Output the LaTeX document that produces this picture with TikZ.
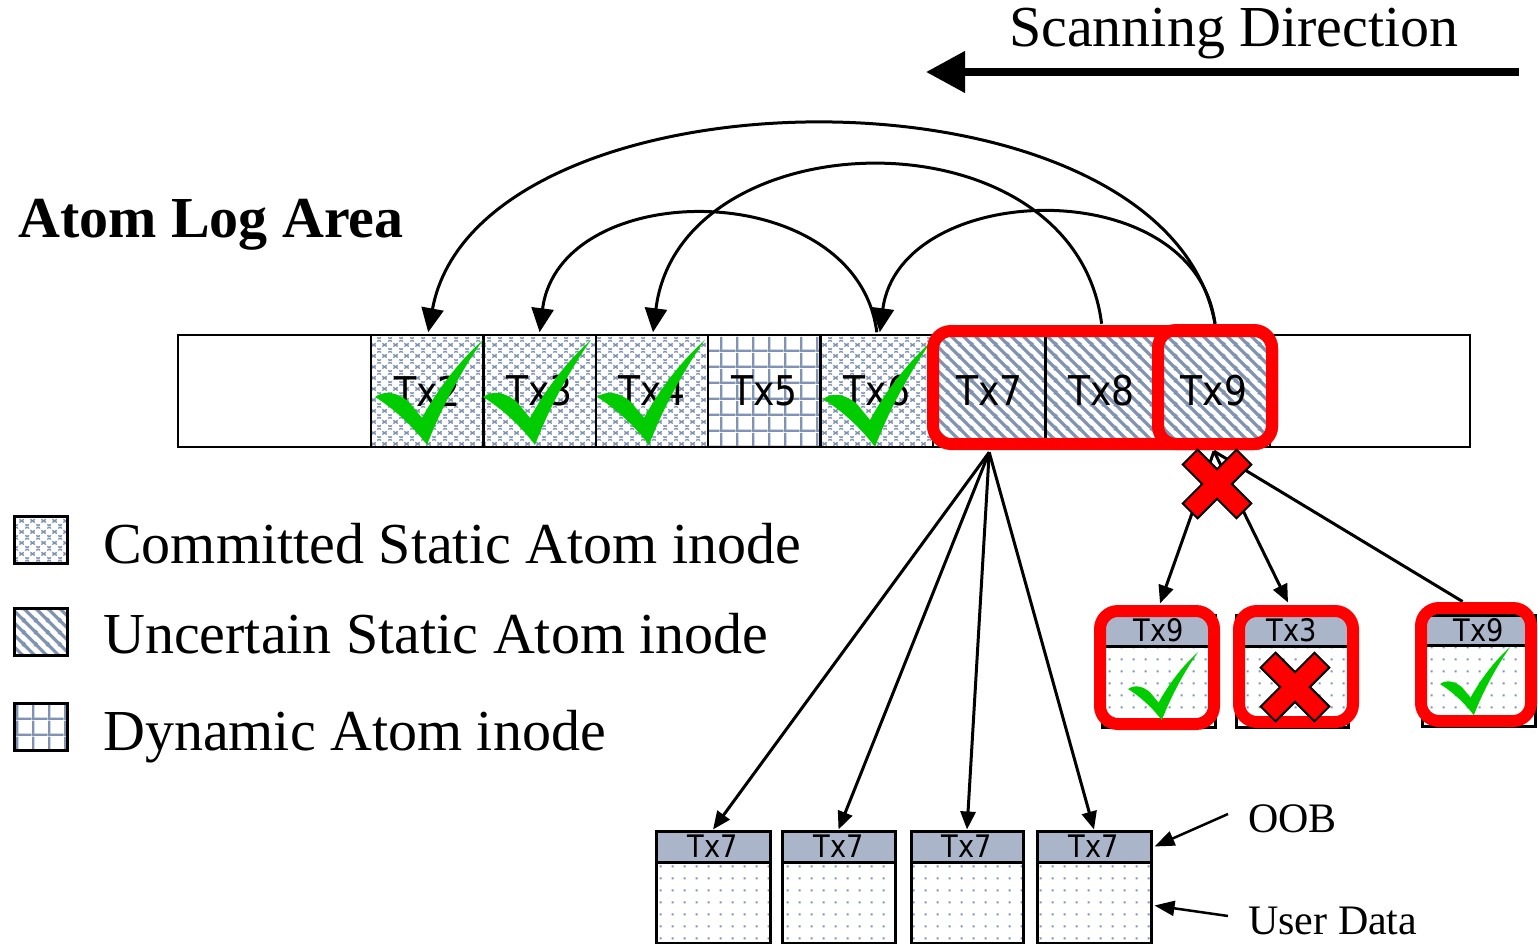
\documentclass[tikz,border=0pt]{standalone}
\usepackage{fontspec}
\setmainfont{Liberation Serif}
\newfontfamily\cellfont[FakeStretch=0.88]{DejaVu Sans}
\usetikzlibrary{arrows.meta,patterns.meta}

\definecolor{patblue}{RGB}{128,147,176}
\definecolor{hdrgray}{RGB}{171,181,201}
\definecolor{okgreen}{RGB}{0,204,0}
\definecolor{badred}{RGB}{255,0,0}

% committed static inode: white dots on a blue-grey lattice
\pgfdeclarepattern{
  name=committedfill, type=colored,
  bottom left={\pgfpoint{0pt}{0pt}}, top right={\pgfpoint{11pt}{11pt}},
  tile size={\pgfpoint{11pt}{11pt}},
  code={
    \pgfsetfillcolor{patblue}
    \pgfpathrectangle{\pgfpointorigin}{\pgfpoint{11pt}{11pt}}
    \pgfusepath{fill}
    \pgfsetfillcolor{white}
    \pgfpathcircle{\pgfpoint{0pt}{0pt}}{3.9pt}
    \pgfpathcircle{\pgfpoint{11pt}{0pt}}{3.9pt}
    \pgfpathcircle{\pgfpoint{0pt}{11pt}}{3.9pt}
    \pgfpathcircle{\pgfpoint{11pt}{11pt}}{3.9pt}
    \pgfpathcircle{\pgfpoint{5.5pt}{5.5pt}}{3.9pt}
    \pgfusepath{fill}
  }
}
% uncertain static inode: diagonal stripes
\pgfdeclarepattern{
  name=uncertainfill, type=colored,
  bottom left={\pgfpoint{0pt}{0pt}}, top right={\pgfpoint{12pt}{12pt}},
  tile size={\pgfpoint{12pt}{12pt}},
  code={
    \pgfsetfillcolor{white}
    \pgfpathrectangle{\pgfpointorigin}{\pgfpoint{12pt}{12pt}}
    \pgfusepath{fill}
    \pgfsetstrokecolor{patblue}
    \pgfsetlinewidth{3.4pt}
    \pgfpathmoveto{\pgfpoint{-1pt}{13pt}}\pgfpathlineto{\pgfpoint{13pt}{-1pt}}
    \pgfpathmoveto{\pgfpoint{-1pt}{1pt}}\pgfpathlineto{\pgfpoint{1pt}{-1pt}}
    \pgfpathmoveto{\pgfpoint{11pt}{13pt}}\pgfpathlineto{\pgfpoint{13pt}{11pt}}
    \pgfusepath{stroke}
  }
}
% dynamic inode: square grid
\pgfdeclarepattern{
  name=dynamicfill, type=colored,
  bottom left={\pgfpoint{0pt}{0pt}}, top right={\pgfpoint{16pt}{16pt}},
  tile size={\pgfpoint{16pt}{16pt}},
  code={
    \pgfsetfillcolor{white}
    \pgfpathrectangle{\pgfpointorigin}{\pgfpoint{16pt}{16pt}}
    \pgfusepath{fill}
    \pgfsetfillcolor{patblue}
    \pgfpathrectangle{\pgfpointorigin}{\pgfpoint{16pt}{2.4pt}}
    \pgfpathrectangle{\pgfpointorigin}{\pgfpoint{2.4pt}{16pt}}
    \pgfusepath{fill}
  }
}
% user data area: sparse dots
\pgfdeclarepattern{
  name=datafill, type=colored,
  bottom left={\pgfpoint{0pt}{0pt}}, top right={\pgfpoint{11.5pt}{11.5pt}},
  tile size={\pgfpoint{11.5pt}{11.5pt}},
  code={
    \pgfsetfillcolor{white}
    \pgfpathrectangle{\pgfpointorigin}{\pgfpoint{11.5pt}{11.5pt}}
    \pgfusepath{fill}
    \pgfsetfillcolor{patblue}
    \pgfpathrectangle{\pgfpoint{4.75pt}{4.75pt}}{\pgfpoint{2.2pt}{2.2pt}}
    \pgfusepath{fill}
  }
}

\begin{document}
\begin{tikzpicture}[x=1pt,y=-1pt,
  cell/.style={draw, line width=2.5pt, minimum width=112.4pt, minimum height=112pt,
    inner sep=0pt, font=\cellfont\fontsize{41}{41}\selectfont},
  hdr/.style={draw, line width=3pt, fill=hdrgray, minimum height=31pt,
    inner sep=0pt, font=\cellfont\fontsize{31}{31}\selectfont},
  databody/.style={draw, line width=3pt, pattern=datafill, minimum height=81pt, inner sep=0pt},
  redbox/.style={draw=badred, line width=12pt, rounded corners=18pt},
  arcline/.style={line width=3pt, -{Triangle[length=24pt,width=22pt]}},
  fanline/.style={line width=3pt, -{Triangle[length=18pt,width=15pt]}},
  noteline/.style={line width=2.5pt, -{Triangle[length=20pt,width=15pt]}},
  legendsq/.style={draw, line width=3pt, minimum width=53pt, minimum height=47pt, inner sep=0pt},
  legendtxt/.style={anchor=base west, inner sep=0pt, font=\fontsize{58}{60}\selectfont},
  okmark/.pic={
    \fill[okgreen] (0,57) .. controls (10,50) and (22,52) .. (34,62) -- (47,78)
      .. controls (62,50) and (85,20) .. (108,0)
      .. controls (88,28) and (66,68) .. (52,105)
      .. controls (38,86) and (18,68) .. cycle;
  },
  xmark/.pic={
    \filldraw[fill=badred, draw=black, line width=2pt, rotate=45]
      (-10.5,-38) -- (10.5,-38) -- (10.5,-10.5) -- (38,-10.5) -- (38,10.5)
      -- (10.5,10.5) -- (10.5,38) -- (-10.5,38) -- (-10.5,10.5) -- (-38,10.5)
      -- (-38,-10.5) -- (-10.5,-10.5) -- cycle;
  }
]
\useasboundingbox (0,0) rectangle (1538,944);

% title and scanning direction
\node[anchor=base west, inner sep=0pt, font=\bfseries\fontsize{58}{60}\selectfont]
  (title) at (18,237) {Atom Log Area};
\node[anchor=base west, inner sep=0pt, font=\fontsize{58}{60}\selectfont]
  (scanlabel) at (1009,47) {Scanning Direction};
\coordinate (scanR) at (1519,72);
\coordinate (scanL) at (926,72);
\draw[line width=7.5pt, -{Triangle[length=39pt,width=40pt]}] (scanR) -- (scanL);

% log area strip
\node[draw, line width=2.5pt, minimum width=1292pt, minimum height=112pt, inner sep=0pt]
  (logbar) at (824,391) {};
\node[cell, pattern=committedfill] (tx2) at (427.2,391) {Tx2};
\node[cell, pattern=committedfill] (tx3) at (539.6,391) {Tx3};
\node[cell, pattern=committedfill] (tx4) at (652,391) {Tx4};
\node[cell, pattern=dynamicfill]   (tx5) at (764.4,391) {Tx5};
\node[cell, pattern=committedfill] (tx6) at (876.8,391) {Tx6};
\node[cell, pattern=uncertainfill] (tx7) at (989.2,391) {Tx7};
\node[cell, pattern=uncertainfill] (tx8) at (1101.6,391) {Tx8};
\node[cell, pattern=uncertainfill] (tx9) at (1214,391) {Tx9};

% committed marks
\pic at (375,340) {okmark};
\pic at (483,340) {okmark};
\pic at (597,340) {okmark};
\pic at (823,342) {okmark};

% back pointers between atom inodes
\draw[arcline] ([xshift=1pt,yshift=10pt]tx9.north) .. controls +(-50,-271) and +(50,-271) .. ([xshift=1pt,yshift=1.5pt]tx2.north);
\draw[arcline] ([yshift=10pt]tx8.north) .. controls +(-27,-216) and +(27,-216) .. ([xshift=1pt,yshift=1.5pt]tx4.north);
\draw[arcline] ([yshift=1.5pt]tx6.north) .. controls +(-20,-157) and +(20,-157) .. ([yshift=1.5pt]tx3.north);
\draw[arcline] ([xshift=1pt,yshift=10pt]tx9.north) .. controls +(-20,-153) and +(20,-153) .. ([xshift=3pt,yshift=1.5pt]tx6.north);

% uncertain group frames
\draw[redbox] (933,331) rectangle (1272,444);
\draw[redbox] (1158,330) rectangle (1272,444);

% pages written by Tx7
\node[hdr, minimum width=114pt] (p1h) at (713,846.5) {Tx7};
\node[databody, minimum width=114pt] (p1b) at (713,902.5) {};
\node[hdr, minimum width=113pt] (p2h) at (838.5,846.5) {Tx7};
\node[databody, minimum width=113pt] (p2b) at (838.5,902.5) {};
\node[hdr, minimum width=112pt] (p3h) at (967,846.5) {Tx7};
\node[databody, minimum width=112pt] (p3b) at (967,902.5) {};
\node[hdr, minimum width=114pt] (p4h) at (1094,846.5) {Tx7};
\node[databody, minimum width=114pt] (p4b) at (1094,902.5) {};

\coordinate (fan7) at ([yshift=-4pt]tx7.south);
\draw[fanline] (fan7) -- (p1h.north);
\draw[fanline] (fan7) -- (p2h.north);
\draw[fanline] (fan7) -- (p3h.north);
\draw[fanline] (fan7) -- (p4h.north);

% OOB / user data annotations
\node[anchor=base west, inner sep=0pt, font=\fontsize{42}{44}\selectfont] (oob) at (1248,832) {OOB};
\node[anchor=base west, inner sep=0pt, font=\fontsize{42}{44}\selectfont] (udata) at (1248,934) {User Data};
\coordinate (oobtail) at (1228,814);
\coordinate (udtail) at (1228,916);
\draw[noteline] (oobtail) -- ([xshift=2pt]p4h.east);
\draw[noteline] (udtail) -- ([xshift=2pt,yshift=-3pt]p4b.east);

% pages referenced by Tx9
\node[hdr, minimum width=113pt] (q1h) at (1158.5,630.5) {Tx9};
\node[databody, minimum width=113pt] (q1b) at (1158.5,686.5) {};
\node[hdr, minimum width=112pt] (q2h) at (1292,630.5) {Tx3};
\node[databody, minimum width=112pt] (q2b) at (1292,686.5) {};
\node[hdr, minimum width=113pt] (q3h) at (1478.5,630.5) {Tx9};
\node[databody, minimum width=113pt] (q3b) at (1478.5,685.5) {};

\coordinate (fan9) at ([yshift=-3pt]tx9.south);
\draw[fanline] (fan9) -- ([xshift=1.5pt,yshift=10pt]q1h.north);
\draw[fanline] (fan9) -- ([xshift=-4pt,yshift=11pt]q2h.north);
\draw[line width=3pt] (fan9) -- ([xshift=-16pt,yshift=12pt]q3h.north);

\draw[redbox] (1100,611) rectangle (1214,724);
\draw[redbox] (1239,611) rectangle (1353,722);
\draw[redbox] (1421,608) rectangle (1531,721);

\pic[scale=0.65] at (1128,652) {okmark};
\pic[scale=0.65] at (1440,647) {okmark};
\pic at (1295,687) {xmark};
\pic at (1217,484) {xmark};

% legend
\node[legendsq, pattern=committedfill] (lg1) at (40.5,539.5) {};
\node[legendsq, pattern=uncertainfill] (lg2) at (40.5,631.5) {};
\node[legendsq, pattern=dynamicfill]   (lg3) at (40.5,726.5) {};
\node[legendtxt] (lt1) at (103,563) {Committed Static Atom inode};
\node[legendtxt] (lt2) at (103,653) {Uncertain Static Atom inode};
\node[legendtxt] (lt3) at (103,750) {Dynamic Atom inode};
\end{tikzpicture}
\end{document}
